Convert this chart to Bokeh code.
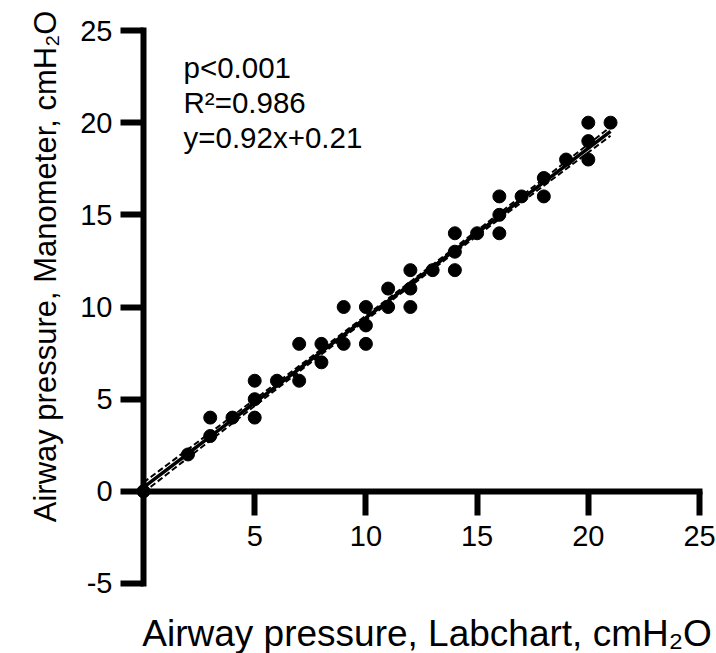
import numpy as np
from bokeh.plotting import figure
from bokeh.models import Range1d, FixedTicker, Label
from bokeh.embed import file_html
from bokeh.resources import INLINE

# ---- data ----
labchart = [0, 2, 3, 3, 4, 5, 5, 5, 6, 7, 7, 8, 8, 9, 9, 10, 10, 10, 11, 11,
            12, 12, 12, 13, 14, 14, 14, 15, 16, 16, 16, 17, 18, 18, 19, 20, 20, 20, 21]
manometer = [0, 2, 3, 4, 4, 4, 5, 6, 6, 6, 8, 7, 8, 8, 10, 8, 9, 10, 10, 11,
             10, 11, 12, 12, 12, 13, 14, 14, 14, 15, 16, 16, 16, 17, 18, 18, 19, 20, 20]
slope = 0.92
intercept = 0.21
ci_halfwidth_at_zero = 0.27
x_ticks = [5, 10, 15, 20, 25]
y_ticks = [-5, 0, 5, 10, 15, 20, 25]
stats_lines = ["p<0.001", "R²=0.986", "y=0.92x+0.21"]
x_title = "Airway pressure, Labchart, cmH₂O"
y_title = "Airway pressure, Manometer, cmH₂O"

FONT = "Liberation Sans"

# ---- regression line and confidence band (shape from the data) ----
x = np.array(labchart, dtype=float)
n = len(x)
xm = x.mean()
sxx = np.sum((x - xm) ** 2)
xf = np.linspace(x.min(), x.max(), 60)
yf = slope * xf + intercept
shape = np.sqrt(1.0 / n + (xf - xm) ** 2 / sxx)
shape0 = np.sqrt(1.0 / n + (0 - xm) ** 2 / sxx)
half = ci_halfwidth_at_zero * shape / shape0
ci_lo = yf - half
ci_hi = yf + half

# Frame covers the whole canvas; the axes are pinned at x=0 / y=0.
p = figure(width=716, height=653,
           x_range=Range1d(-6.43, 25.764), y_range=Range1d(-8.798, 26.628),
           output_backend="svg", toolbar_location=None, min_border=0)
p.xgrid.visible = False
p.ygrid.visible = False
p.outline_line_color = None
p.background_fill_color = "white"
p.border_fill_color = "white"

xa = p.xaxis[0]
xa.fixed_location = 0
xa.bounds = (0, 25)
xa.ticker = FixedTicker(ticks=x_ticks)
ya = p.yaxis[0]
ya.fixed_location = 0
ya.bounds = (-5, 25)
ya.ticker = FixedTicker(ticks=y_ticks)
ya.major_label_overrides = {-5: "-5"}

for ax, tout, stand in ((xa, 24, 11), (ya, 23, 8)):
    ax.axis_line_width = 6
    ax.axis_line_color = "black"
    ax.axis_line_cap = "square"
    ax.major_tick_line_width = 6
    ax.major_tick_line_color = "black"
    ax.major_tick_in = 0
    ax.major_tick_out = tout
    ax.minor_tick_line_color = None
    ax.major_label_standoff = stand
    ax.major_label_text_font = FONT
    ax.major_label_text_font_size = "29px"
    ax.major_label_text_color = "black"

# confidence band and fit
p.line(xf, ci_lo, line_color="black", line_width=2, line_dash="6 3")
p.line(xf, ci_hi, line_color="black", line_width=2, line_dash="6 3")
p.line(xf, yf, line_color="black", line_width=3.5)

# points
p.scatter(labchart, manometer, size=13, fill_color="black", line_color="black")

# stats text
for txt, yy in zip(stats_lines, [23.0, 21.07, 19.22]):
    p.add_layout(Label(x=1.8, y=yy, text=txt, text_font=FONT,
                       text_font_size="29.5px", text_color="black",
                       text_baseline="alphabetic", text_align="left"))

# axis titles
p.add_layout(Label(x=12.75, y=-7.74, text=x_title, text_font=FONT,
                   text_font_size="37px", text_color="black",
                   text_baseline="alphabetic", text_align="center"))
p.add_layout(Label(x=-4.41, y=12.2, text=y_title, text_font=FONT,
                   text_font_size="31px", text_color="black", angle=np.pi / 2,
                   text_baseline="alphabetic", text_align="center"))

open("out.html", "w").write(file_html(p, INLINE))
